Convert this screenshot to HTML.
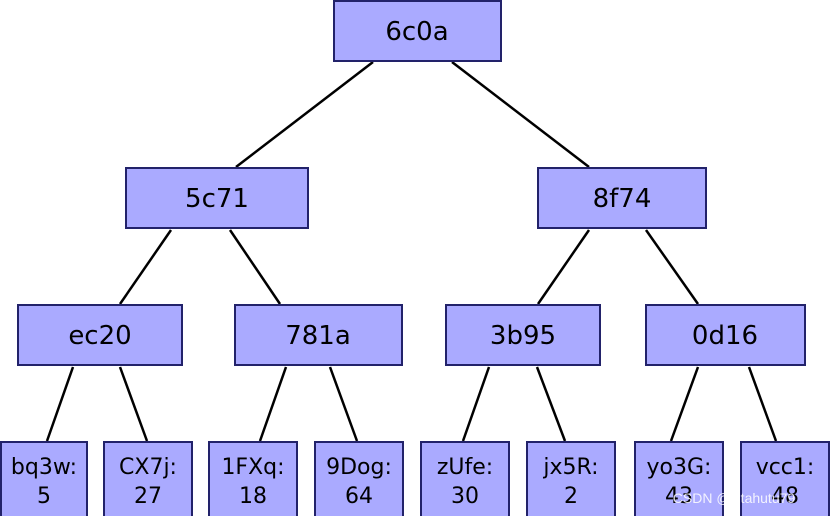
<!DOCTYPE html>
<html><head><style>body{margin:0;background:#fff}svg{display:block}</style></head><body>
<svg width="831" height="516" xmlns="http://www.w3.org/2000/svg" font-family="DejaVu Sans, sans-serif">
<g stroke="#000" stroke-width="2.5">
<line x1="373" y1="62" x2="236" y2="167"/><line x1="452" y1="62" x2="589" y2="167"/>
<line x1="171" y1="230" x2="120" y2="304"/><line x1="230" y1="230" x2="280" y2="304"/>
<line x1="589" y1="230" x2="538" y2="304"/><line x1="646" y1="230" x2="698" y2="304"/>
<line x1="73" y1="367" x2="47" y2="441"/><line x1="120" y1="367" x2="147" y2="441"/>
<line x1="286" y1="367" x2="260" y2="441"/><line x1="330" y1="367" x2="357" y2="441"/>
<line x1="489" y1="367" x2="463" y2="441"/><line x1="537" y1="367" x2="565" y2="441"/>
<line x1="698" y1="367" x2="671" y2="441"/><line x1="749" y1="367" x2="776" y2="441"/>
</g>
<g fill="#aaaaff" stroke="#22226a" stroke-width="2">
<rect x="334" y="1" width="167" height="60"/>
<rect x="126" y="168" width="182" height="60"/><rect x="538" y="168" width="168" height="60"/>
<rect x="18" y="305" width="164" height="60"/><rect x="235" y="305" width="167" height="60"/>
<rect x="446" y="305" width="154" height="60"/><rect x="646" y="305" width="159" height="60"/>
<rect x="1" y="442" width="86" height="76"/><rect x="104" y="442" width="88" height="76"/>
<rect x="209" y="442" width="88" height="76"/><rect x="315" y="442" width="88" height="76"/>
<rect x="421" y="442" width="88" height="76"/><rect x="527" y="442" width="88" height="76"/>
<rect x="635" y="442" width="88" height="76"/><rect x="741" y="442" width="88" height="76"/>
</g>
<g font-size="26" text-anchor="middle" fill="#000">
<text x="417" y="40">6c0a</text>
<text x="217" y="207">5c71</text><text x="622" y="207">8f74</text>
<text x="100" y="344">ec20</text><text x="318" y="344">781a</text>
<text x="523" y="344">3b95</text><text x="725" y="344">0d16</text>
</g>
<g font-size="22" text-anchor="middle" fill="#000">
<text x="44" y="474">bq3w:</text><text x="44" y="503">5</text>
<text x="148" y="474">CX7j:</text><text x="148" y="503">27</text>
<text x="253" y="474">1FXq:</text><text x="253" y="503">18</text>
<text x="359" y="474">9Dog:</text><text x="359" y="503">64</text>
<text x="465" y="474">zUfe:</text><text x="465" y="503">30</text>
<text x="571" y="474">jx5R:</text><text x="571" y="503">2</text>
<text x="679" y="474">yo3G:</text><text x="679" y="503">43</text>
<text x="785" y="474">vcc1:</text><text x="785" y="503">48</text>
</g>
<text x="734" y="503" font-size="14" fill="#fff" fill-opacity="0.85" text-anchor="middle" font-family="Liberation Sans, sans-serif">CSDN @yitahutu79</text>
</svg>
</body></html>
